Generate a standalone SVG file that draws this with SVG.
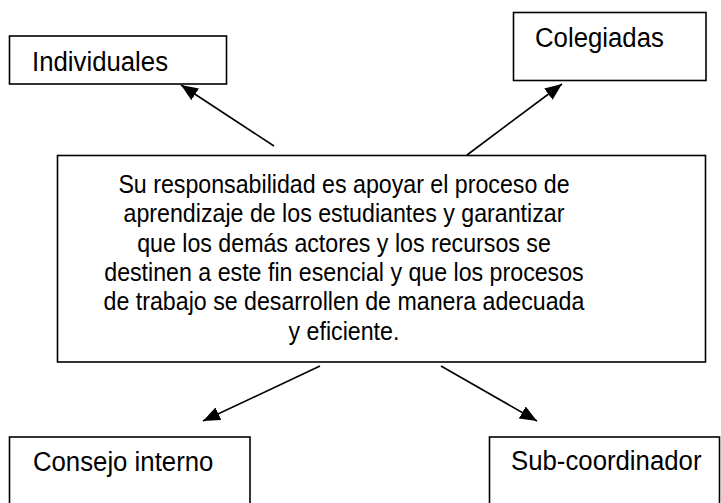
<svg xmlns="http://www.w3.org/2000/svg" width="721" height="503" viewBox="0 0 721 503">
<style>
.box{fill:#fff;stroke:#000;stroke-width:1.6}
.lbl{font-family:"Liberation Sans",Arial,sans-serif;font-size:27px;fill:#000}
.body{font-family:"Liberation Sans",Arial,sans-serif;font-size:25.5px;fill:#000;text-anchor:middle}
.con{stroke:#000;stroke-width:1.6;fill:none;marker-end:url(#ah)}
</style>
<defs>
<marker id="ah" markerUnits="userSpaceOnUse" markerWidth="18" markerHeight="15" refX="17" refY="7" orient="auto">
<path d="M0,0 L17,7 L0,14 z" fill="#000"/>
</marker>
</defs>
<g id="individuales">
<rect class="box" x="9.5" y="36" width="217" height="48"/>
<text class="lbl" transform="scale(0.955,1)" x="33.5" y="71">Individuales</text>
</g>
<g id="colegiadas">
<rect class="box" x="513.5" y="12.5" width="192.5" height="68"/>
<text class="lbl" transform="scale(0.955,1)" x="560.2" y="47">Colegiadas</text>
</g>
<g id="centro">
<rect class="box" x="57.5" y="155.5" width="648" height="206.5"/>
<g transform="scale(0.91,1)">
<text class="body" x="378" y="193">Su responsabilidad es apoyar el proceso de</text>
<text class="body" x="378" y="222.5">aprendizaje de los estudiantes y garantizar</text>
<text class="body" x="378" y="252">que los demás actores y los recursos se</text>
<text class="body" x="378" y="281">destinen a este fin esencial y que los procesos</text>
<text class="body" x="378" y="310.5">de trabajo se desarrollen de manera adecuada</text>
<text class="body" x="378" y="340">y eficiente.</text>
</g>
</g>
<g id="consejo">
<rect class="box" x="9.5" y="437" width="240.5" height="80"/>
<text class="lbl" transform="scale(0.955,1)" x="34.5" y="471.5">Consejo interno</text>
</g>
<g id="subcoordinador">
<rect class="box" x="489.5" y="437" width="230" height="80"/>
<text class="lbl" transform="scale(0.955,1)" x="535.1" y="470.5">Sub-coordinador</text>
</g>
<g id="connectors">
<line class="con" x1="274" y1="146" x2="181" y2="85"/>
<line class="con" x1="467" y1="155" x2="562" y2="84"/>
<line class="con" x1="320" y1="366" x2="203" y2="421"/>
<line class="con" x1="441" y1="366" x2="537" y2="421"/>
</g>
</svg>
